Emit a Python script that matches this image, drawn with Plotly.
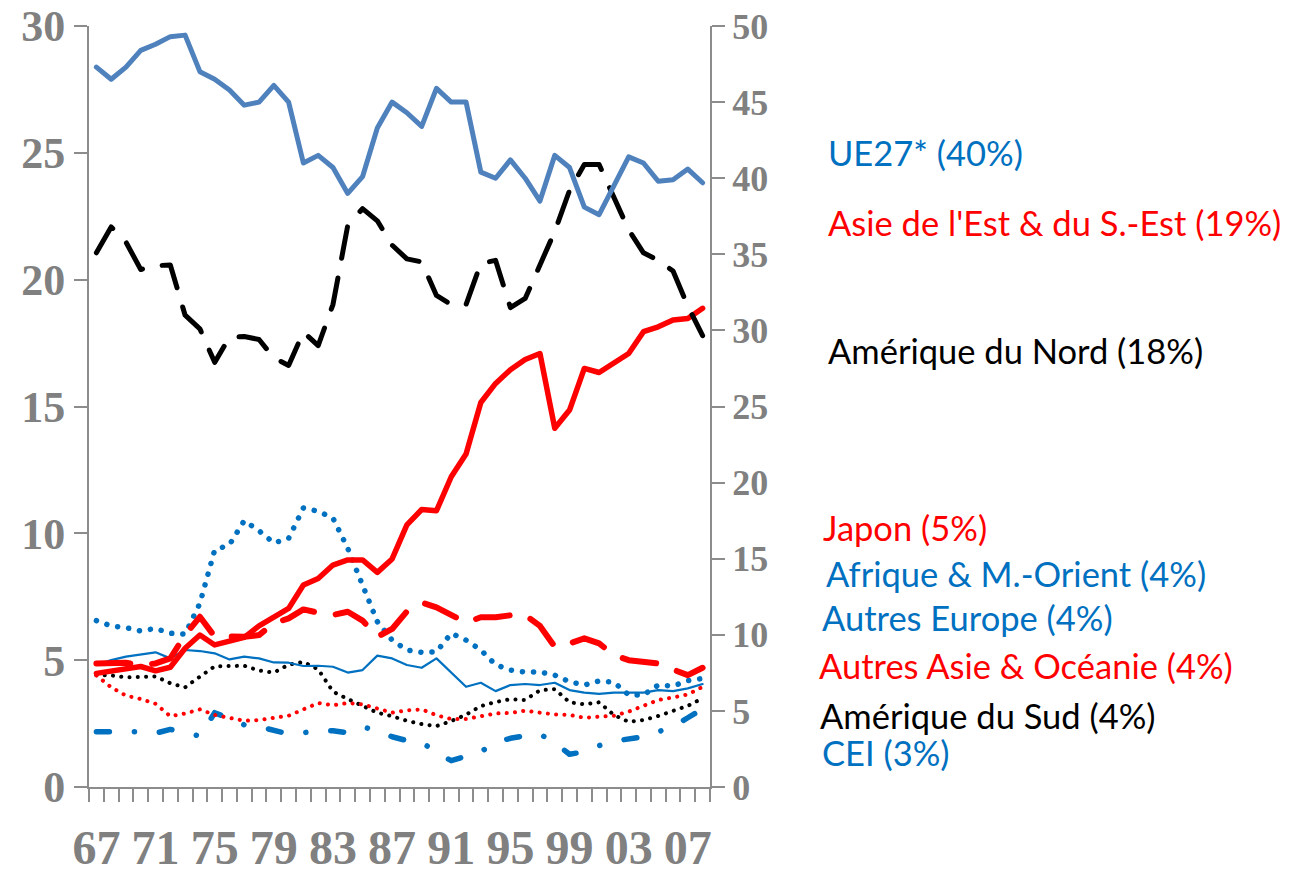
import plotly.graph_objects as go

years = list(range(1967, 2009))
tick_years = list(range(1967, 2008, 4))
tick_text = [str(y)[-2:] for y in tick_years]

# Right axis series (%)
ue27 = [47.3, 46.5, 47.3, 48.4, 48.8, 49.3, 49.4, 47.0, 46.5, 45.8, 44.8, 45.0, 46.1, 45.0,
        41.0, 41.5, 40.7, 39.0, 40.1, 43.3, 45.0, 44.3, 43.4, 45.9, 45.0, 45.0, 40.4, 40.0,
        41.2, 40.0, 38.5, 41.5, 40.7, 38.1, 37.6, 39.5, 41.4, 41.0, 39.8, 39.9, 40.6, 39.7]
amerique_nord = [35.1, 36.8, 35.8, 34.0, 34.25, 34.3, 31.0, 30.1, 27.9, 29.55, 29.6, 29.4, 28.2, 27.7,
                 29.9, 29.0, 31.7, 36.9, 38.0, 37.2, 35.6, 34.7, 34.5, 32.3, 31.7, 31.7, 34.4, 34.6,
                 31.5, 32.1, 34.3, 36.5, 39.2, 40.9, 40.9, 38.8, 36.6, 35.1, 34.6, 33.9, 31.6, 29.65]

# Left axis series (%)
asie_est = [4.48, 4.58, 4.69, 4.75, 4.58, 4.72, 5.47, 5.99, 5.6, 5.73, 5.9, 6.35, 6.71, 7.04,
            7.96, 8.22, 8.75, 8.95, 8.95, 8.46, 8.99, 10.33, 10.94, 10.89, 12.23, 13.13, 15.16, 15.91,
            16.45, 16.85, 17.09, 14.14, 14.86, 16.5, 16.34, 16.7, 17.09, 17.95, 18.14, 18.41, 18.47, 18.87]
japon = [4.87, 4.88, 4.9, 4.8, 4.87, 5.07, 6.0, 6.71, 5.93, 5.93, 5.92, 5.99, 6.45, 6.65,
         7.0, 6.87, 6.78, 6.91, 6.56, 5.92, 6.23, 6.92, 7.27, 7.08, 6.78, 6.48, 6.69, 6.69,
         6.77, 6.78, 6.35, 5.53, 5.66, 5.86, 5.66, 5.2, 5.0, 4.94, 4.87, 4.63, 4.41, 4.7]
afrique_mo = [6.56, 6.35, 6.28, 6.15, 6.25, 6.06, 6.03, 7.24, 9.34, 9.55, 10.5, 10.1, 9.62, 9.8,
              11.0, 10.87, 10.6, 9.41, 7.96, 6.52, 5.79, 5.4, 5.31, 5.33, 6.06, 5.79, 5.4, 4.82,
              4.61, 4.53, 4.53, 4.41, 4.15, 4.02, 4.18, 4.13, 3.63, 3.63, 4.02, 3.98, 4.19, 4.28]
autres_europe = [4.81, 5.0, 5.14, 5.24, 5.31, 5.07, 5.4, 5.36, 5.27, 5.03, 5.14, 5.07, 4.91, 4.9,
                 4.77, 4.78, 4.74, 4.51, 4.61, 5.18, 5.07, 4.81, 4.70, 5.07, 4.52, 3.95, 4.11, 3.78,
                 4.02, 4.06, 4.02, 4.11, 3.82, 3.72, 3.67, 3.72, 3.72, 3.72, 3.82, 3.78, 3.89, 4.06]
autres_asie = [4.4, 3.93, 3.6, 3.47, 3.28, 2.79, 2.9, 3.06, 2.84, 2.71, 2.61, 2.64, 2.73, 2.81,
               3.06, 3.31, 3.22, 3.31, 3.26, 3.1, 2.93, 3.02, 3.06, 2.83, 2.68, 2.68, 2.79, 2.9,
               2.92, 3.01, 2.93, 2.86, 2.84, 2.73, 2.77, 2.81, 2.97, 3.19, 3.43, 3.53, 3.65, 3.95]
amerique_sud = [4.41, 4.40, 4.32, 4.35, 4.36, 4.09, 3.93, 4.35, 4.76, 4.77, 4.78, 4.59, 4.51, 4.82,
                4.93, 4.64, 3.76, 3.47, 3.2, 2.93, 2.79, 2.61, 2.48, 2.4, 2.6, 2.85, 3.19, 3.35,
                3.46, 3.43, 3.81, 3.86, 3.34, 3.26, 3.34, 2.84, 2.57, 2.64, 2.8, 3.0, 3.2, 3.5]
cei = [2.18, 2.18, 2.18, 2.18, 2.12, 2.27, 2.16, 2.0, 2.93, 2.71, 2.45, 2.38, 2.21, 2.09,
       2.14, 2.22, 2.22, 2.14, 2.37, 2.22, 1.98, 1.83, 1.77, 1.35, 1.04, 1.2, 1.39, 1.76,
       1.92, 2.02, 2.08, 1.75, 1.29, 1.39, 1.63, 1.81, 1.88, 1.98, 2.18, 2.38, 2.73, 3.08]

labels = ["UE27* (40%)", "Asie de l'Est & du S.-Est (19%)", "Amérique du Nord (18%)",
          "Japon (5%)", "Afrique & M.-Orient (4%)", "Autres Europe (4%)",
          "Autres Asie & Océanie (4%)", "Amérique du Sud (4%)", "CEI (3%)"]

BLUE = "#0070C0"
STEEL = "#4F81BD"
RED = "#FF0000"
BLACK = "#000000"
GRAY = "#808080"
AXIS = "#8C8C8C"

fig = go.Figure()

def add(y, color, width, dash, axis="y"):
    fig.add_trace(go.Scatter(x=years, y=y, mode="lines", yaxis=axis,
                             line=dict(color=color, width=width, dash=dash),
                             showlegend=False, hoverinfo="skip"))

add(cei, BLUE, 5.5, "13px,25px,0.1px,25px")
add(amerique_sud, BLACK, 4, "0.1px,8.2px")
add(autres_asie, RED, 4, "0.1px,8.2px")
add(autres_europe, BLUE, 2.2, "solid")
add(afrique_mo, BLUE, 5.5, "0.1px,11px")
add(japon, RED, 6, "34px,22px")
add(asie_est, RED, 5.5, "solid")
add(amerique_nord, BLACK, 5, "32px,20px", "y2")
add(ue27, STEEL, 5, "solid", "y2")

L, R, T, B = 89, 579, 26, 87
W, H = 1289, 874
pw, ph = W - L - R, H - T - B

fig.update_layout(
    width=W, height=H, autosize=False,
    margin=dict(l=L, r=R, t=T, b=B, pad=0),
    paper_bgcolor="white", plot_bgcolor="white",
    xaxis=dict(range=[1966.5, 2008.5], tickmode="array", tickvals=tick_years, ticktext=tick_text,
               ticks="", showgrid=False, zeroline=False, showline=True, linecolor=AXIS, linewidth=2,
               automargin=False,
               tickfont=dict(family="Liberation Serif", size=48, color=GRAY, weight="bold"),
               ticklabelstandoff=17,
               minor=dict(tickvals=[y - 0.5 for y in years] + [2008.5], ticks="outside",
                          ticklen=13, tickcolor=AXIS, tickwidth=1.5, showgrid=False)),
    yaxis=dict(range=[0, 30], tickvals=[0, 5, 10, 15, 20, 25, 30], ticks="outside", ticklen=13,
               tickcolor=AXIS, tickwidth=1.5, showgrid=False, zeroline=False, showline=True,
               linecolor=AXIS, linewidth=2, automargin=False,
               tickfont=dict(family="Liberation Serif", size=44, color=GRAY, weight="bold")),
    yaxis2=dict(range=[0, 50], tickvals=list(range(0, 51, 5)), overlaying="y", side="right",
                ticks="outside", ticklen=13, tickcolor=AXIS, tickwidth=1.5, showgrid=False,
                zeroline=False, showline=True, linecolor=AXIS, linewidth=2, automargin=False,
                tickfont=dict(family="Liberation Serif", size=36, color=GRAY, weight="bold")),
)

label_pos = [(826, 152, BLUE), (826, 222, RED), (826, 350, BLACK), (821, 527, RED),
             (824, 573, BLUE), (820, 617, BLUE), (817, 665, RED), (818, 715, BLACK),
             (820, 752, BLUE)]
for txt, (px, py, col) in zip(labels, label_pos):
    fig.add_annotation(x=(px - L) / pw, y=(H - B - py) / ph, xref="paper", yref="paper",
                       text=txt, showarrow=False, xanchor="left", yanchor="middle",
                       font=dict(family="Lato", size=34.5, color=col))

post = ("document.body.style.margin='0';"
        "var s=document.createElement('style');"
        "s.innerHTML='body{margin:0;} .scatterlayer path.js-line{stroke-linecap:round;stroke-linejoin:round;}';"
        "document.head.appendChild(s);")
fig.write_html("out.html", post_script=post, config={"displayModeBar": False})
